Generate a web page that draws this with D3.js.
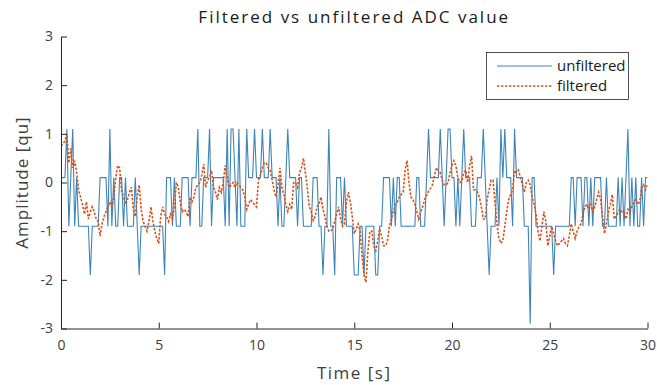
<!DOCTYPE html>
<html>
<head>
<meta charset="utf-8">
<script src="https://cdn.jsdelivr.net/npm/d3@7"></script>
<style>
  html, body { margin: 0; padding: 0; background: #fff; }
  svg text { font-family: "Open Sans", "Noto Sans", sans-serif; }
</style>
</head>
<body>
<svg id="chart" width="657" height="385"></svg>
<script>
// ---- data ----
const title = "Filtered vs unfiltered ADC value";
const xLabel = "Time [s]";
const yLabel = "Amplitude [qu]";
const seriesNames = ["unfiltered", "filtered"];
const sampleStep = 0.1; // seconds between samples
const xTicks = [0, 5, 10, 15, 20, 25, 30];
const yTicks = [-3, -2, -1, 0, 1, 2, 3];

const unfiltered = [
  0.1, 0.1, 0.1, 1.1, -0.9, 0.1, 1.1, -0.9, 0.1, -0.9,
  -0.9, -0.9, -0.9, -0.9, -0.9, -1.9, -0.9, -0.9, -0.9, -0.9,
  0.1, 0.1, 0.1, 0.1, -0.9, 1.1, -0.9, 0.1, -0.9, -0.9,
  0.1, 0.1, -0.9, 0.1, -0.9, -0.9, -0.9, -0.9, 0.1, -0.9,
  -1.9, -0.9, -0.9, -0.9, -0.9, -0.9, -0.9, -0.9, -0.9, -0.9,
  -0.9, -0.9, -0.9, -1.9, 0.1, 0.1, 0.1, -0.9, 0.1, -0.9,
  -0.9, -0.9, 0.1, 0.1, 0.1, 0.1, -0.9, 0.1, 0.1, 0.1,
  1.1, -0.9, -0.9, 0.1, 0.1, 0.1, 1.1, -0.9, 0.1, 0.1,
  0.1, 0.1, 0.1, 0.1, -0.9, 1.1, -0.9, 1.1, 1.1, 0.1,
  -0.9, 1.1, -0.9, -0.9, -0.9, 1.1, 0.1, 0.1, 0.1, 1.1,
  0.1, 0.1, 0.1, 1.1, 0.1, 0.1, 0.1, 1.1, 0.1, 0.1,
  0.1, -0.9, 0.1, -0.9, -0.9, 0.1, 1.1, 0.1, 0.1, 0.1,
  0.1, -0.9, 0.1, 0.1, -0.9, -0.9, -0.9, -0.9, -0.9, 0.1,
  0.1, 0.1, -0.9, -0.9, -1.9, -0.9, -0.9, 1.1, -0.9, -0.9,
  -1.9, 0.1, 0.1, 0.1, -0.9, 0.1, -0.9, -0.9, -0.9, -0.9,
  -1.9, -1.9, -1.9, -0.9, -0.9, -1.9, -0.9, -0.9, -0.9, -0.9,
  -0.9, -1.9, -1.9, -0.9, -0.9, 0.1, 0.1, 0.1, 0.1, -0.9,
  0.1, -0.9, 0.1, 0.1, -0.9, -0.9, -0.9, -0.9, -0.9, -0.9,
  -0.9, -0.9, 0.1, 0.1, -0.9, -0.9, -0.9, 0.1, 1.1, 0.1,
  0.1, 0.1, 0.1, 0.1, 1.1, 0.1, -0.9, 0.1, 1.1, 1.1,
  0.1, 0.1, -0.9, 0.1, -0.9, 0.1, 1.1, 0.1, 0.1, 0.1,
  -0.9, -0.9, -0.9, 0.1, 0.1, 0.1, 1.1, 0.1, -0.9, -1.9,
  -0.9, -0.9, -0.9, 0.1, -0.9, 1.1, 0.1, 1.1, 0.1, 0.1,
  0.1, -0.9, 1.1, 0.1, 0.1, 0.1, 0.1, -0.9, -0.9, -0.9,
  -2.9, 0.1, 0.1, -0.9, -0.9, -0.9, -0.9, -0.9, -0.9, -0.9,
  -0.9, -0.9, -1.9, -0.9, -0.9, -0.9, -0.9, -0.9, -0.9, -0.9,
  -0.9, 0.1, 0.1, -0.9, 0.1, 0.1, 0.1, -0.9, 0.1, 0.1,
  -0.9, 0.1, -0.9, 0.1, 0.1, 0.1, 0.1, -0.9, -0.9, 0.1,
  -0.9, -0.9, -0.9, -0.9, -0.9, 0.1, -0.9, 0.1, -0.9, 0.1,
  1.1, -0.9, 0.1, -0.9, 0.1, -0.9, -0.9, 0.1, -0.9, 0.1,
  0.1
];

const filtered = [
  0.75, 0.8, 0.85, 1.0, 0.4, 0.7, 0.3, 0.45, 0.2, -0.15,
  -0.3, -0.45, -0.65, -0.4, -0.75, -0.6, -0.5, -0.6, -0.75, -0.8,
  -1.1, -0.85, -0.7, -0.6, -0.5, -0.4, -0.5, -0.3, 0.1, 0.35,
  0.3, -0.17, -0.3, -0.45, -0.35, -0.2, -0.1, -0.55, -0.7, -0.3,
  -0.05, -0.55, -0.8, -0.9, -1.0, -0.8, -0.5, -0.8, -1.0, -1.15,
  -1.25, -0.7, -0.5, -0.65, -0.7, -0.8, -0.65, -0.75, -0.5, 0.0,
  -0.1, -0.4, -0.6, -0.55, -0.6, -0.7, -0.3, -0.4, -0.3, -0.1,
  -0.05, 0.0, 0.15, 0.38, -0.1, 0.05, 0.1, 0.25, -0.1, -0.2,
  -0.35, -0.1, -0.2, 0.0, 0.35, 0.1, -0.1, -0.05, 0.0, -0.1,
  0.0, -0.05, -0.1, -0.15, -0.3, -0.55, -0.45, -0.35, -0.4, -0.45,
  -0.5, 0.05, 0.15, 0.3, 0.4, 0.4, 0.3, 0.25, 0.05, -0.15,
  -0.3, -0.05, 0.3, -0.1, -0.25, -0.45, -0.6, -0.45, -0.55, 0.0,
  0.0, -0.1, 0.2, 0.3, 0.5, 0.2, -0.1, -0.5, -0.6, -0.78,
  -0.7, -0.5, -0.45, -0.3, -0.55, -0.7, -0.9, -1.0, -1.0, -0.95,
  -0.8, -0.65, -0.5, -0.75, -0.9, -0.85, -0.4, -0.2, -0.4, -0.7,
  -1.05, -0.95, -0.85, -1.0, -1.5, -1.9, -2.05, -1.4, -1.0, -1.0,
  -1.3, -1.4, -1.2, -0.95, -1.1, -1.3, -1.3, -1.2, -0.9, -0.75,
  -0.6, -0.45, -0.4, -0.3, -0.25, -0.2, 0.25, 0.45, 0.0, -0.3,
  -0.35, -0.45, -0.6, -0.75, -0.6, -0.5, -0.35, -0.27, -0.18, -0.12,
  -0.05, 0.15, 0.3, 0.25, 0.2, 0.05, -0.05, -0.05, 0.0, 0.2,
  0.35, 0.45, 0.35, 0.1, 0.0, 0.02, 0.2, 0.25, 0.0, 0.35,
  0.55, -0.15, -0.15, -0.2, -0.3, -0.5, -0.75, -0.75, -0.35, -0.15,
  0.05, 0.05, -0.4, -0.85, -1.15, -1.25, -1.2, -0.9, -0.6, -0.35,
  -0.25, -0.15, 0.25, 0.2, 0.25, 0.1, -0.05, -0.2, 0.0, 0.05,
  -0.05, -0.3, -0.45, -0.65, -1.0, -1.2, -0.9, -0.6, -0.8, -1.3,
  -1.1, -0.9, -1.05, -1.2, -1.3, -1.25, -1.2, -1.15, -1.25, -1.3,
  -1.1, -0.85, -1.0, -1.15, -1.0, -0.9, -0.85, -0.65, -0.5, -0.45,
  -0.55, -0.45, -0.6, -0.5, -0.35, -0.2, -0.35, -0.7, -1.05, -0.85,
  -0.6, -0.45, -0.25, -0.75, -0.7, -0.6, -0.55, -0.6, -0.6, -0.75,
  -0.55, -0.6, -0.5, -0.4, -0.35, -0.45, -0.4, -0.1, -0.05, -0.15,
  -0.05
];

// ---- layout ----
const svg = d3.select("#chart");
const margin = { left: 61, right: 9.5, top: 36.5, bottom: 56.5 };
const W = 657, H = 385;
const x = d3.scaleLinear().domain([0, 30]).range([margin.left, W - margin.right]);
const y = d3.scaleLinear().domain([-3, 3]).range([H - margin.bottom, margin.top]);
const axisColor = "#262626";
const labelColor = "#404040";
const blue = "#3d85b8";
const orange = "#d95319";

svg.append("defs").append("clipPath").attr("id", "clip")
  .append("rect")
  .attr("x", x(0)).attr("y", y(3))
  .attr("width", x(30) - x(0)).attr("height", y(-3) - y(3));

const line = d3.line().x((d, i) => x(i * sampleStep)).y(d => y(d));

const plot = svg.append("g").attr("clip-path", "url(#clip)");
plot.append("path").datum(unfiltered)
  .attr("d", line).attr("fill", "none")
  .attr("stroke", blue).attr("stroke-width", 1.1).attr("stroke-linejoin", "miter");
plot.append("path").datum(filtered)
  .attr("d", line).attr("fill", "none")
  .attr("stroke", orange).attr("stroke-width", 1.6)
  .attr("stroke-dasharray", "2.4,1.6");

// axes
const fmt = d => String(d);
const xAxis = d3.axisBottom(x).tickValues(xTicks).tickFormat(fmt).tickSizeInner(-6).tickSizeOuter(0);
const yAxis = d3.axisLeft(y).tickValues(yTicks).tickFormat(fmt).tickSizeInner(-6).tickSizeOuter(0);

const gx = svg.append("g").attr("transform", `translate(0,${y(-3)})`).call(xAxis);
const gy = svg.append("g").attr("transform", `translate(${x(0)},0)`).call(yAxis);
[gx, gy].forEach(g => {
  g.select(".domain").attr("stroke", axisColor).attr("stroke-width", 1);
  g.selectAll(".tick line").attr("stroke", axisColor).attr("stroke-width", 1);
  g.selectAll(".tick text").attr("fill", labelColor)
    .style("font-size", "14px").style("font-family", '"Open Sans", sans-serif');
});
gy.selectAll(".tick text").attr("x", -8);
gx.selectAll(".tick text").attr("y", 12);

// title & labels
svg.append("text").attr("x", (x(0) + x(30)) / 2).attr("y", 23)
  .attr("text-anchor", "middle").attr("fill", "#1a1a1a")
  .style("font-size", "17px").style("letter-spacing", "2px").text(title);
svg.append("text").attr("x", (x(0) + x(30)) / 2).attr("y", 379)
  .attr("text-anchor", "middle").attr("fill", labelColor)
  .style("font-size", "17px").style("letter-spacing", "1.5px").text(xLabel);
svg.append("text")
  .attr("transform", `translate(28,${(y(-3) + y(3)) / 2}) rotate(-90)`)
  .attr("text-anchor", "middle").attr("fill", labelColor)
  .style("font-size", "17px").style("letter-spacing", "1px").text(yLabel);

// legend
const lg = svg.append("g");
lg.append("rect").attr("x", 486.5).attr("y", 52.5).attr("width", 142).attr("height", 47)
  .attr("fill", "#fff").attr("stroke", axisColor).attr("stroke-width", 0.8);
const legendItems = [
  { name: seriesNames[0], color: blue, dash: null, w: 1.1 },
  { name: seriesNames[1], color: orange, dash: "2.4,1.6", w: 1.6 }
];
legendItems.forEach((it, i) => {
  const yy = 66 + i * 20;
  lg.append("line").attr("x1", 497).attr("x2", 552).attr("y1", yy).attr("y2", yy)
    .attr("stroke", it.color).attr("stroke-width", it.w)
    .attr("stroke-dasharray", it.dash);
  lg.append("text").attr("x", 557).attr("y", yy + 5).attr("fill", "#1a1a1a")
    .style("font-size", "15px").text(it.name);
});
</script>
</body>
</html>
